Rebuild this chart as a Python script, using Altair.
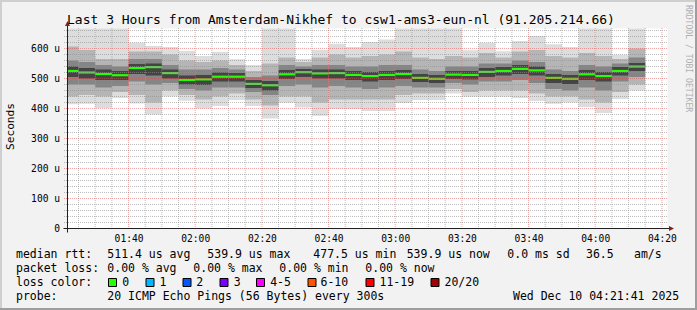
import altair as alt
import pandas as pd

# ---------------- data ----------------
chart_start = "01:21:41"
chart_end = "04:21:41"
col_end = ["01:25", "01:30", "01:35", "01:40", "01:45", "01:50", "01:55", "02:00", "02:05", "02:10",
           "02:15", "02:20", "02:25", "02:30", "02:35", "02:40", "02:45", "02:50", "02:55", "03:00",
           "03:05", "03:10", "03:15", "03:20", "03:25", "03:30", "03:35", "03:40", "03:45", "03:50",
           "03:55", "04:00", "04:05", "04:10", "04:15"]
# median rtt per 5-min step (microseconds)
median = [525, 520, 515, 511, 535, 538, 518, 495, 497, 506,
          506, 482, 477.5, 514, 521, 517, 518, 512, 508, 512,
          515, 502, 499, 513, 512, 522, 525, 532, 527, 502,
          499, 514, 508, 525, 539.9]
# smoke bands (outer -> inner): top / bottom of each band
hi1 = [680, 680, 680, 680, 619, 608, 605, 592, 575, 589,
       564, 545, 680, 680, 565, 595, 616, 605, 622, 630,
       680, 680, 680, 680, 594, 619, 591, 625, 642, 614,
       605, 680, 680, 579, 680]
lo1 = [414, 416, 402, 435, 417, 380, 440, 426, 400, 408,
       428, 408, 367, 419, 403, 376, 398, 398, 392, 392,
       418, 428, 428, 450, 439, 439, 439, 435, 425, 416,
       420, 405, 385, 432, 460]
hi2 = [607, 595, 565, 565, 590, 590, 580, 560, 555, 560,
       545, 525, 550, 570, 555, 570, 580, 570, 575, 580,
       590, 570, 565, 575, 570, 585, 570, 590, 595, 575,
       570, 585, 575, 565, 600]
lo2 = [440, 445, 440, 455, 445, 420, 460, 445, 430, 440,
       450, 430, 410, 440, 440, 420, 430, 430, 430, 430,
       445, 450, 450, 465, 455, 460, 460, 460, 450, 440,
       440, 430, 420, 455, 480]
hi3 = [560, 555, 545, 540, 565, 565, 545, 530, 530, 535,
       530, 505, 510, 545, 540, 545, 545, 540, 540, 545,
       545, 530, 525, 540, 540, 550, 550, 560, 555, 530,
       525, 545, 540, 550, 570]
lo3 = [480, 480, 470, 475, 490, 480, 485, 465, 460, 470,
       470, 455, 445, 475, 480, 470, 475, 470, 465, 470,
       475, 470, 470, 485, 480, 490, 490, 495, 485, 465,
       460, 470, 460, 490, 505]
hi4 = [540, 535, 530, 525, 548, 550, 530, 510, 512, 520,
       518, 495, 492, 528, 532, 530, 530, 525, 522, 525,
       528, 515, 512, 525, 525, 535, 538, 545, 540, 515,
       512, 528, 522, 538, 552]
lo4 = [505, 500, 495, 495, 515, 510, 500, 480, 478, 490,
       490, 468, 460, 498, 505, 500, 500, 495, 490, 495,
       498, 488, 485, 498, 497, 505, 510, 515, 510, 485,
       482, 495, 490, 510, 525]
band_colors = ["#dddddd", "#b5b5b5", "#858585", "#444444"]

x_tick_labels = ["01:40", "02:00", "02:20", "02:40", "03:00", "03:20", "03:40", "04:00", "04:20"]
y_tick_values = [0, 100, 200, 300, 400, 500, 600]

title_text = "Last 3 Hours from Amsterdam-Nikhef to csw1-ams3-eun-nl (91.205.214.66)"
row1 = [("median rtt:", 16), ("511.4 us avg", 107.3), ("539.9 us max", 207.3), ("477.5 us min", 313.3),
        ("539.9 us now", 406.7), ("0.0 ms sd", 507.3), ("36.5", 586.0), ("am/s", 634.0)]
row2 = [("packet loss:", 16), ("0.00 % avg", 107.3), ("0.00 % max", 193.3), ("0.00 % min", 279.3),
        ("0.00 % now", 365.3)]
loss_labels = ["0", "1", "2", "3", "4-5", "6-10", "11-19", "20/20"]
loss_colors = ["#26ff00", "#00b8ff", "#0059ff", "#7e00ff", "#ff00ff", "#ff5500", "#ff0000", "#a10000"]
loss_box_x = [108, 145.5, 182.5, 219.5, 256, 307.5, 365.5, 430.5]
loss_lab_x = [122.2, 159.5, 196.2, 233.8, 270.2, 320.5, 379.5, 444.5]
row4 = [("probe:", 16), ("20 ICMP Echo Pings (56 Bytes) every 300s", 107.3),
        ("Wed Dec 10 04:21:41 2025", 513.0)]

# ---------------- geometry ----------------
OX, OY = 67.5, 28.5
W, H = 600, 200
FONT = "DejaVu Sans Mono"


def tmin(s):
    p = [int(v) for v in s.split(":")]
    return p[0] * 60 + p[1] + (p[2] / 60 if len(p) > 2 else 0)


T0, T1 = tmin(chart_start), tmin(chart_end)
YMAX = 200 / 0.3

rows = []
meds = []
for i in range(len(col_end)):
    x0 = T0 if i == 0 else tmin(col_end[i - 1])
    x1 = tmin(col_end[i])
    bands = [(lo1[i], hi1[i]), (lo2[i], hi2[i]), (lo3[i], hi3[i]), (lo4[i], hi4[i])]
    for lvl, (lo, hi) in enumerate(bands):
        rows.append({"x0": x0, "x1": x1, "lo": lo, "hi": hi, "c": band_colors[lvl], "lvl": lvl})
    meds.append({"x0": x0, "x1": x1, "m": median[i]})
smoke = pd.DataFrame(rows).sort_values(["lvl"], kind="stable")
med_df = pd.DataFrame(meds)

xticks = [tmin(s) for s in x_tick_labels]
xscale = alt.Scale(domain=[T0, T1], nice=False, zero=False)
yscale = alt.Scale(domain=[0, YMAX], nice=False, zero=True)

x_label_expr = ("(floor(datum.value/60) < 10 ? '0' : '') + floor(datum.value/60) + ':' + "
                "(datum.value % 60 < 10 ? '0' : '') + (datum.value % 60)")
y_label_expr = "datum.value == 0 ? '0\u00a0\u00a0' : datum.value + ' u'"

X_AXIS = alt.Axis(values=xticks, labelExpr=x_label_expr, grid=False, ticks=False, domain=False,
                  labelFont=FONT, labelFontSize=9.6, labelColor="#000000", labelPadding=5,
                  title=None, labelFlush=False, labelOverlap=False)
Y_AXIS = alt.Axis(values=y_tick_values, labelExpr=y_label_expr, grid=False, ticks=False,
                  domain=False, labelFont=FONT, labelFontSize=9.6, labelColor="#000000",
                  labelPadding=8, title=None, labelOverlap=False, labelFlush=False)

smoke_layer = alt.Chart(smoke).mark_rect(clip=True).encode(
    x=alt.X("x0:Q", scale=xscale, axis=X_AXIS),
    x2="x1:Q",
    y=alt.Y("lo:Q", scale=yscale, axis=Y_AXIS),
    y2="hi:Q",
    color=alt.Color("c:N", scale=None),
)

med_layer = alt.Chart(med_df).mark_rule(color="#26ff00", strokeWidth=2.2).encode(
    x=alt.X("x0:Q", scale=xscale, axis=X_AXIS), x2="x1:Q",
    y=alt.Y("m:Q", scale=yscale, axis=Y_AXIS))

minor_t = [t for t in range(85, 265, 5) if t % 20 != 0]
major_t = [t for t in range(100, 265, 20)]
minor_v = [v for v in range(20, 667, 20) if v % 100 != 0]
major_v = [v for v in range(100, 667, 100)]

GRID = "rgba(143,143,143,0.6)"
MGRID = "rgba(222,79,79,0.5)"


def vgrid(vals, color):
    return alt.Chart(pd.DataFrame({"t": vals})).mark_rule(
        stroke=color, strokeDash=[1, 1], strokeWidth=1).encode(
        x=alt.X("t:Q", scale=xscale, axis=X_AXIS), y=alt.value(-0.5), y2=alt.value(H))


def hgrid(vals, color):
    return alt.Chart(pd.DataFrame({"v": vals})).mark_rule(
        stroke=color, strokeDash=[1, 1], strokeWidth=1).encode(
        y=alt.Y("v:Q", scale=yscale, axis=Y_AXIS), x=alt.value(-3.5), x2=alt.value(W))


grid_layers = [vgrid(minor_t, GRID), hgrid(minor_v, GRID), vgrid(major_t, MGRID), hgrid(major_v, MGRID)]

one = pd.DataFrame({"k": [0]})


def txt(s, x, y, size=11.5, color="#000000", angle=0, align="left", baseline="alphabetic"):
    return alt.Chart(one).mark_text(text=s, font=FONT, fontSize=size, color=color, angle=angle,
                                    align=align, baseline=baseline).encode(
        x=alt.value(x - OX), y=alt.value(y - OY))


def box(x0, x1, y0, y1, fill, stroke=None, sw=0):
    kw = {"fill": fill}
    if stroke:
        kw["stroke"] = stroke
        kw["strokeWidth"] = sw
    else:
        kw["strokeWidth"] = 0
    return alt.Chart(one).mark_rect(**kw).encode(
        x=alt.value(x0 - OX), x2=alt.value(x1 - OX), y=alt.value(y0 - OY), y2=alt.value(y1 - OY))


AXIS = "#1f1f1f"
ARROW = "#801f1f"
axis_layers = [
    alt.Chart(one).mark_rule(color=AXIS, strokeWidth=1).encode(
        x=alt.value(-4), x2=alt.value(W + 3), y=alt.value(H)),
    alt.Chart(one).mark_rule(color=AXIS, strokeWidth=1).encode(
        x=alt.value(0), y=alt.value(H + 4), y2=alt.value(-4)),
    alt.Chart(one).mark_point(shape="M-1,1L1,1L0,-1Z", filled=True, size=25, color=ARROW, opacity=1).encode(
        x=alt.value(0), y=alt.value(-5)),
    alt.Chart(one).mark_point(shape="M-1,-1L1,0L-1,1Z", filled=True, size=25, color=ARROW, opacity=1).encode(
        x=alt.value(W + 4), y=alt.value(H)),
]

text_layers = [txt(title_text, 67, 23.5, size=13)]
text_layers.append(txt("Seconds", 14, 126.5, size=11.2, angle=270, align="center", baseline="alphabetic"))
text_layers.append(txt("RRDTOOL / TOBI OETIKER", 688, 5, size=8.1, color="#b0b0b0", angle=90,
                       align="left", baseline="middle"))
for s, x in row1:
    text_layers.append(txt(s, x, 258))
for s, x in row2:
    text_layers.append(txt(s, x, 272))
text_layers.append(txt("loss color:", 16, 286))
box_layers = []
for lab, col, bx, lx in zip(loss_labels, loss_colors, loss_box_x, loss_lab_x):
    box_layers.append(box(bx + 0.5, bx + 8.5, 278.5, 286.5, col, "#000000", 1))
    text_layers.append(txt(lab, lx, 286))
for s, x in row4:
    text_layers.append(txt(s, x, 300))

frame_layers = [
    box(0, 697, 0, 2, "#cfcfcf"),
    box(0, 2, 0, 310, "#cfcfcf"),
    box(0, 697, 308, 310, "#9e9e9e"),
    box(695, 697, 0, 310, "#9e9e9e"),
]

chart = alt.layer(
    smoke_layer, med_layer, *grid_layers, *axis_layers, *frame_layers, *box_layers, *text_layers
).properties(
    width=W, height=H,
    padding={"left": OX, "top": OY, "right": 697 - OX - W, "bottom": 310 - OY - H},
    autosize=alt.AutoSizeParams(type="none"),
    background="#f2f2f2",
).configure_view(stroke=None, fill="white")

chart.save("out.html", embed_options={"renderer": "svg", "actions": False})
